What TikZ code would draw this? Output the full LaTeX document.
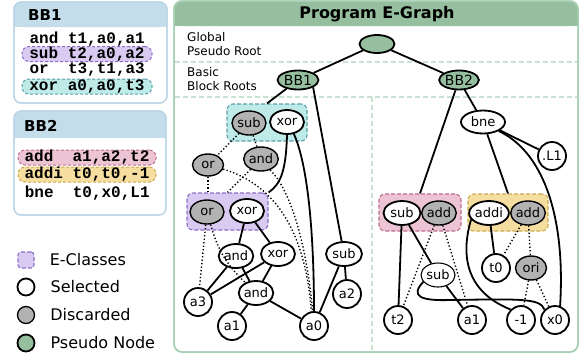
\documentclass[tikz,border=0pt]{standalone}
\usepackage{fontspec}
\setmainfont{DejaVu Sans}
\newfontfamily\codefont{Liberation Mono}
\usetikzlibrary{shapes.geometric}
\usetikzlibrary{positioning}
\definecolor{custom-green}{RGB}{149, 191, 159}
\definecolor{frame-green}{RGB}{168, 206, 180}
\definecolor{line-green}{RGB}{200, 226, 211}
\definecolor{custom-blue}{RGB}{196, 221, 235}
\definecolor{frame-blue}{RGB}{186, 213, 230}
\definecolor{custom-purple}{RGB}{216, 202, 240}
\definecolor{edge-purple}{RGB}{140, 110, 200}
\definecolor{custom-cyan}{RGB}{190, 234, 232}
\definecolor{edge-cyan}{RGB}{90, 160, 168}
\definecolor{custom-pink}{RGB}{236, 196, 211}
\definecolor{edge-pink}{RGB}{188, 108, 140}
\definecolor{custom-yellow}{RGB}{246, 222, 160}
\definecolor{edge-yellow}{RGB}{204, 172, 78}
\definecolor{custom-gray}{RGB}{178, 178, 178}

\tikzset{
    enode/.style={ellipse, draw=black, line width=1.8pt, fill=white, inner sep=0pt,
        minimum width=34pt, minimum height=24pt, font=\fontsize{13}{15}\selectfont},
    gone/.style={enode, fill=custom-gray, line width=1.4pt},
    leaf/.style={circle, draw=black, line width=1.8pt, fill=white, inner sep=0pt,
        minimum size=28pt, font=\fontsize{13}{15}\selectfont},
    pseudo/.style={enode, fill=custom-green, minimum width=38pt, minimum height=19pt,
        font=\fontsize{14}{16}\selectfont},
    eclass/.style={rectangle, rounded corners=6pt, line width=1.1pt, dash pattern=on 4pt off 2pt},
    sel/.style={line width=1.8pt},
    dis/.style={line width=1.4pt, dash pattern=on 1.3pt off 2.2pt},
    code/.style={font=\codefont\bfseries\fontsize{16}{18}\selectfont, inner sep=0pt, anchor=west},
    hl/.style={code, anchor=center, rounded corners=7pt, line width=1pt,
        dash pattern=on 3pt off 2pt, minimum height=15pt},
    keytext/.style={inner sep=0pt, anchor=west, font=\fontsize{16}{19}\selectfont}
}

\begin{document}
\begin{tikzpicture}[x=1pt, y=-1pt]
    \useasboundingbox (0, 0) rectangle (581, 360);

    % basic block listings
    \filldraw[fill=white, draw=frame-blue, line width=1.2pt, rounded corners=7pt] (14, 2) rectangle (167, 103);
    \fill[custom-blue, rounded corners=7pt] (14, 2) rectangle (167, 27);
    \fill[custom-blue] (14, 16) rectangle (167, 27);
    \draw[frame-blue, line width=1.2pt, rounded corners=7pt] (14, 2) rectangle (167, 103);
    \node[anchor=west, inner sep=0pt, font=\bfseries\fontsize{15}{18}\selectfont] (bbAhead) at (28, 15) {BB1};
    \node[code] (bbAl1) at (29.4, 39.5) {and t1,a0,a1};
    \node[hl, fill=custom-purple, draw=edge-purple, minimum width=130pt] (bbAl2) at (87, 54) {sub t2,a0,a2};
    \node[code] (bbAl3) at (29.4, 70) {or~~t3,t1,a3};
    \node[hl, fill=custom-cyan, draw=edge-cyan, minimum width=130pt] (bbAl4) at (87, 86.5) {xor a0,a0,t3};

    \filldraw[fill=white, draw=frame-blue, line width=1.2pt, rounded corners=7pt] (14, 111) rectangle (166, 215);
    \fill[custom-blue, rounded corners=7pt] (14, 111) rectangle (166, 138);
    \fill[custom-blue] (14, 125) rectangle (166, 138);
    \draw[frame-blue, line width=1.2pt, rounded corners=7pt] (14, 111) rectangle (166, 215);
    \node[anchor=west, inner sep=0pt, font=\bfseries\fontsize{15}{18}\selectfont] (bbBhead) at (24, 126) {BB2};
    \node[hl, fill=custom-pink, draw=edge-pink, minimum width=138pt] (bbBl1) at (87, 157.5) {add~~a1,a2,t2};
    \node[hl, fill=custom-yellow, draw=edge-yellow, minimum width=138pt] (bbBl2) at (87, 174.5) {addi t0,t0,-1};
    \node[code] (bbBl3) at (24.6, 193) {bne~~t0,x0,L1};

    % legend
    \node[eclass, fill=custom-purple, draw=edge-purple, minimum size=16pt, rounded corners=3pt] (keyclass) at (26, 260) {};
    \node[keytext, right=15pt of keyclass] {E-Classes};
    \node[circle, draw=black, line width=1.8pt, fill=white, minimum size=17pt, inner sep=0pt] (keysel) at (26, 287) {};
    \node[keytext, right=15pt of keysel] {Selected};
    \node[circle, draw=black, line width=1.3pt, fill=custom-gray, minimum size=17pt, inner sep=0pt] (keydis) at (26, 315) {};
    \node[keytext, right=15pt of keydis] {Discarded};
    \node[circle, draw=black, line width=1.8pt, fill=custom-green, minimum size=17pt, inner sep=0pt] (keypseudo) at (26, 343) {};
    \node[keytext, right=15pt of keypseudo] {Pseudo Node};

    % e-graph panel
    \filldraw[fill=white, draw=frame-green, line width=1.5pt, rounded corners=8pt] (174, 1) rectangle (578, 352);
    \fill[custom-green, rounded corners=8pt] (174, 1) rectangle (578, 26);
    \fill[custom-green] (174, 14) rectangle (578, 26);
    \draw[frame-green, line width=1.5pt, rounded corners=8pt] (174, 1) rectangle (578, 352);
    \node[font=\bfseries\fontsize{16}{19}\selectfont] (title) at (377, 14) {Program E-Graph};
    \draw[line-green, line width=1.2pt, dash pattern=on 5pt off 3pt] (175, 62) -- (577, 62);
    \draw[line-green, line width=1.2pt, dash pattern=on 5pt off 3pt] (175, 97) -- (577, 97);
    \draw[line-green, line width=1.2pt, dash pattern=on 5pt off 3pt] (372, 97) -- (372, 351);
    \node[anchor=west, align=left, inner sep=0pt, font=\fontsize{12}{14}\selectfont] (lvlroot) at (187, 44) {Global\\Pseudo Root};
    \node[anchor=west, align=left, inner sep=0pt, font=\fontsize{12}{14}\selectfont] (lvlblock) at (187, 79.5) {Basic\\Block Roots};

    % roots
    \node[pseudo, minimum width=35pt, minimum height=18pt] (root) at (377, 44) {};
    \node[pseudo, minimum width=41pt] (bbA) at (298, 80) {BB1};
    \node[pseudo] (bbB) at (459, 80) {BB2};

    % e-classes
    \node[eclass, fill=custom-cyan, draw=edge-cyan, minimum width=80pt, minimum height=37pt] (cls1) at (267, 122.5) {};
    \node[eclass, fill=custom-purple, draw=edge-purple, minimum width=81pt, minimum height=37pt] (cls2) at (227.5, 211.5) {};
    \node[eclass, fill=custom-pink, draw=edge-pink, minimum width=82pt, minimum height=37pt] (cls3) at (420, 212.5) {};
    \node[eclass, fill=custom-yellow, draw=edge-yellow, minimum width=80pt, minimum height=37pt] (cls4) at (508, 212.5) {};

    % BB1 nodes
    \node[gone] (subG1) at (249, 123) {sub};
    \node[enode] (xorS1) at (287, 122) {xor};
    \node[gone, minimum width=31pt, minimum height=22pt] (orG1) at (208, 165) {or};
    \node[gone] (andG1) at (261, 159) {and};
    \node[gone] (orG2) at (207, 212) {or};
    \node[enode] (xorS2) at (247, 211) {xor};
    \node[enode] (andS1) at (236, 256) {and};
    \node[enode] (xorS3) at (278, 254) {xor};
    \node[enode, minimum width=36pt] (subS1) at (344, 254) {sub};
    \node[enode] (andS2) at (256, 293) {and};
    \node[leaf] (a3) at (198, 302) {a3};
    \node[leaf] (a2) at (347, 294) {a2};
    \node[leaf] (a1L) at (232, 326) {a1};
    \node[leaf] (a0) at (314, 326) {a0};

    % BB2 nodes
    \node[enode, minimum width=44pt, minimum height=23pt] (bne) at (483, 122) {bne};
    \node[leaf] (L1) at (552, 156) {.L1};
    \node[enode, minimum width=37pt] (subS2) at (402, 213) {sub};
    \node[gone] (addG1) at (439, 213) {add};
    \node[enode] (addi) at (489, 213) {addi};
    \node[gone] (addG2) at (528, 213) {add};
    \node[enode, line width=1.1pt] (subS3) at (438, 275) {sub};
    \node[leaf] (t0) at (496, 268) {t0};
    \node[gone, minimum width=31pt] (ori) at (531, 268) {ori};
    \node[leaf] (t2) at (398, 320) {t2};
    \node[leaf] (a1R) at (472, 320) {a1};
    \node[leaf] (m1) at (521, 320) {-1};
    \node[leaf] (x0) at (555, 320) {x0};

    % edges
    \draw[sel] (root) -- (bbA);
    \draw[sel] (root) -- (bbB);
    \draw[sel] (bbA) -- (cls1.north);
    \draw[sel] (bbA.south east) -- (subS1);
    \draw[sel] (xorS1.south) .. controls (286, 170) and (281, 184) .. (cls2.north east);
    \draw[sel] (xorS1.-60) .. controls (310, 170) and (314, 250) .. (a0.north);
    \draw[dis] (subG1) -- (orG1);
    \draw[dis] (subG1) -- (andG1);
    \draw[dis] (orG1) -- (orG1 |- cls2.north);
    \draw[dis] (orG1.-15) .. controls (275, 185) and (305, 230) .. (a0.100);
    \draw[dis] (andG1) -- (cls2.north);
    \draw[dis] (andG1.-50) .. controls (295, 195) and (308, 260) .. (a0.95);
    \draw[sel] (xorS2) -- (andS1);
    \draw[sel] (xorS2) -- (xorS3);
    \draw[dis] (orG2) -- (a3);
    \draw[dis] (orG2) to[bend right=15] (andS2);
    \draw[sel] (andS1) -- (a3);
    \draw[sel] (andS1) -- (andS2);
    \draw[sel] (xorS3) -- (a3);
    \draw[sel] (xorS3) -- (andS2);
    \draw[sel] (andS2) -- (a1L);
    \draw[sel] (andS2) -- (a0);
    \draw[sel] (subS1) -- (a0);
    \draw[sel] (subS1) -- (a2);

    \draw[sel] (bbB) -- (cls3.north);
    \draw[sel] (bbB) -- (bne);
    \draw[sel] (bne) -- (L1);
    \draw[sel] (bne) -- (cls4.north);
    \draw[sel] (bne.-30) .. controls (540, 150) and (566, 210) .. (x0.70);
    \draw[sel] (subS2) -- (t2);
    \draw[sel] (subS2) -- (subS3);
    \draw[dis] (addG1) -- (t2);
    \draw[dis] (addG1) -- (a1R);
    \draw[sel] (subS3) -- (a1R);
    \draw[sel] (subS3.205) .. controls (410, 296) and (420, 301) .. (450, 300)
        .. controls (520, 299) and (540, 298) .. (x0.north west);
    \draw[sel] (addi) -- (t0);
    \draw[sel] (addi.200) .. controls (462, 250) and (462, 290) .. (m1.north west);
    \draw[dis] (addG2) -- (t0);
    \draw[dis] (addG2) -- (ori);
    \draw[dis] (ori) -- (m1);
    \draw[dis] (ori) -- (x0);
\end{tikzpicture}
\end{document}
